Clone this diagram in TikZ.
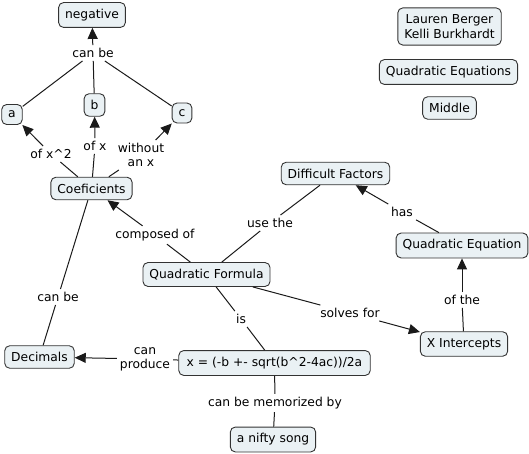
\documentclass[tikz,border=0pt]{standalone}
\usepackage{fontspec}
\setmainfont{DejaVu Sans}
\usetikzlibrary{arrows.meta}
\definecolor{nodefill}{HTML}{EAF1F4}
\definecolor{nodeline}{HTML}{333333}
\definecolor{linecol}{HTML}{1A1A1A}
\begin{document}
\begin{tikzpicture}[x=1bp,y=-1bp,
  concept/.style={draw=nodeline, fill=nodefill, rounded corners=5bp, inner xsep=6.5bp, inner ysep=6.5bp,
    font=\fontsize{12.3bp}{15bp}\selectfont, line width=0.9bp, align=center},
  lbl/.style={inner sep=3bp, font=\fontsize{12.3bp}{14bp}\selectfont, align=center},
  conn/.style={draw=linecol, line width=1bp},
  arr/.style={conn, -{Triangle[length=11bp,width=10bp]}}]
\useasboundingbox (0,0) rectangle (529,454);
% concepts
\node[concept] (neg) at (92,15) {negative};
\node[concept] (a) at (12,114.5) {a};
\node[concept] (b) at (94.5,105) {b};
\node[concept] (c) at (182,113) {c};
\node[concept] (coef) at (91.5,188.5) {Coeficients};
\node[concept] (authors) at (449.5,26.5) {Lauren Berger\\Kelli Burkhardt};
\node[concept] (qes) at (448.5,72) {Quadratic Equations};
\node[concept] (middle) at (449.5,108) {Middle};
\node[concept] (df) at (335.5,173.5) {Difficult Factors};
\node[concept] (qe) at (462,245.5) {Quadratic Equation};
\node[concept] (xi) at (464,344) {X Intercepts};
\node[concept] (qf) at (206.5,274.5) {Quadratic Formula};
\node[concept, inner xsep=8bp] (formula) at (274.5,363) {x = (-b +- sqrt(b\textasciicircum 2-4ac))/2a};
\node[concept] (dec) at (39.5,357) {Decimals};
\node[concept] (nifty) at (273,439.5) {a nifty song};
% labels
\node[lbl] (canbe1) at (93,53) {can be};
\node[lbl] (ofx2) at (51,154) {of x\textasciicircum 2};
\node[lbl] (ofx) at (95,146) {of x};
\node[lbl] (without) at (141,155) {without\\an x};
\node[lbl] (composed) at (155,235) {composed of};
\node[lbl] (usethe) at (270,223) {use the};
\node[lbl] (has) at (402,212) {has};
\node[lbl] (ofthe) at (462,300) {of the};
\node[lbl] (solves) at (350,313) {solves for};
\node[lbl] (is) at (241,319) {is};
\node[lbl] (canproduce) at (145,359) {can\\produce};
\node[lbl] (canbe2) at (58,297) {can be};
\node[lbl] (memo) at (275,403) {can be memorized by};
% connectors
\draw[conn] (a) -- (canbe1);
\draw[conn] (b) -- (canbe1);
\draw[conn] (c) -- (canbe1);
\draw[arr] (canbe1) -- (neg);
\draw[conn] (coef) -- (ofx2);
\draw[arr] (ofx2) -- (a);
\draw[conn] (coef) -- (ofx);
\draw[arr] (ofx) -- (b);
\draw[conn] (coef) -- (without);
\draw[arr] (without) -- (c);
\draw[conn] (qf) -- (composed);
\draw[arr] (composed) -- (coef);
\draw[conn] (qf) -- (usethe);
\draw[conn] (usethe) -- (df);
\draw[conn] (qe) -- (has);
\draw[arr] (has) -- (df);
\draw[conn] (xi) -- (ofthe);
\draw[arr] (ofthe) -- (qe);
\draw[conn] (qf) -- (solves);
\draw[arr] (solves) -- (xi);
\draw[conn] (qf) -- (is);
\draw[conn] (is) -- (formula);
\draw[conn] (formula) -- (canproduce);
\draw[arr] (canproduce) -- (dec);
\draw[conn] (coef) -- (canbe2);
\draw[conn] (canbe2) -- (dec);
\draw[conn] (formula) -- (memo);
\draw[conn] (memo) -- (nifty);
\end{tikzpicture}
\end{document}
